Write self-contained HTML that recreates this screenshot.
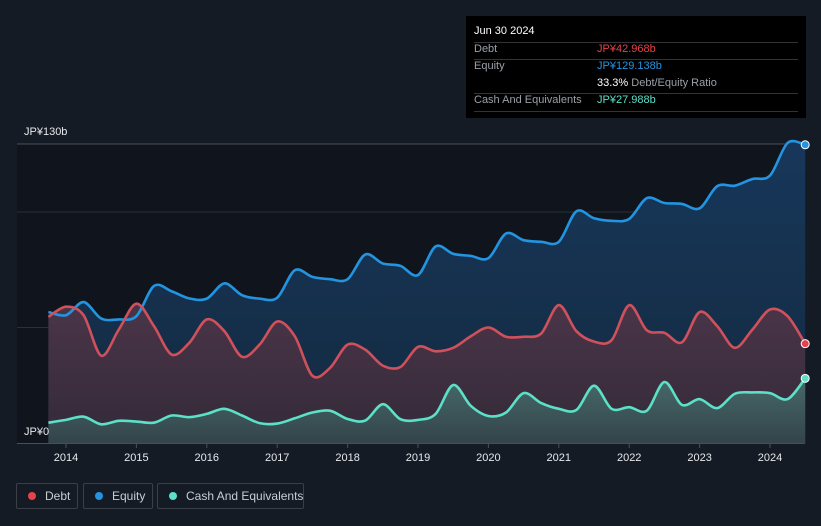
<!DOCTYPE html>
<html><head><meta charset="utf-8"><style>
body{margin:0;background:#151b25;font-family:"Liberation Sans",sans-serif;}
#wrap{position:relative;width:821px;height:526px;overflow:hidden;background:#151b25;}
svg{position:absolute;left:0;top:0;}
.tt{position:absolute;left:466px;top:16px;width:340px;height:102px;background:#000;font-size:11px;}
.tt div{position:absolute;white-space:nowrap;}
.leg{position:absolute;top:483px;height:26px;border:1px solid #3a3f48;border-radius:2px;color:#c9cdd3;font-size:12px;line-height:24px;box-sizing:border-box;white-space:nowrap;}
.leg span{display:inline-block;width:8px;height:8px;border-radius:50%;margin:0 9px 0 11px;}
</style></head><body>
<div id="wrap">
<svg id="chart" width="821" height="526"></svg>
<div class="tt">
 <div style="left:8px;top:9px;color:#fff;font-size:11px">Jun 30 2024</div>
 <div style="left:8px;top:26px;width:324px;border-top:1px solid #333"></div>
 <div style="left:8px;top:27px;color:#9aa0a8">Debt</div>
 <div style="left:131px;top:27px;color:#e5424b">JP¥42.968b</div>
 <div style="left:8px;top:43px;width:324px;border-top:1px solid #333"></div>
 <div style="left:8px;top:44px;color:#9aa0a8">Equity</div>
 <div style="left:131px;top:44px;color:#2394e0">JP¥129.138b</div>
 <div style="left:131px;top:61px;color:#9aa0a8"><b style="color:#fff;font-weight:normal">33.3%</b> Debt/Equity Ratio</div>
 <div style="left:8px;top:77px;width:324px;border-top:1px solid #333"></div>
 <div style="left:8px;top:78px;color:#9aa0a8">Cash And Equivalents</div>
 <div style="left:131px;top:78px;color:#5ce0c8">JP¥27.988b</div>
 <div style="left:8px;top:95px;width:324px;border-top:1px solid #333"></div>
</div>
<div class="leg" style="left:16px;width:62px"><span style="background:#e5424b"></span>Debt</div>
<div class="leg" style="left:83px;width:70px"><span style="background:#2394e0"></span>Equity</div>
<div class="leg" style="left:157px;width:147px"><span style="background:#5ce0c8"></span>Cash And Equivalents</div>
</div>
<script>
const startYear=2013.75;
const equity=[56.7,55.3,61.0,53.9,53.5,54.9,68.0,65.7,62.6,62.5,69.1,64.0,62.5,62.9,74.8,71.9,70.9,70.9,81.6,77.7,76.7,72.7,85.1,81.9,81.0,80.0,90.7,87.8,87.1,87.1,100.3,97.3,96.2,97.0,106.0,103.9,103.5,101.6,111.2,111.4,114.3,115.8,129.9,129.1];
const debt=[54.6,59.0,55.3,37.8,49.1,60.3,50.6,38.3,43.3,53.5,48.4,37.3,42.6,52.6,46.2,29.1,32.5,42.6,40.4,33.5,32.9,41.6,39.7,41.2,46.2,50.0,46.0,46.0,47.4,59.7,48.4,43.9,44.5,59.7,48.8,47.7,43.6,56.7,50.6,41.2,49.1,57.8,54.9,43.0];
const cash=[8.8,10.0,11.4,8.1,9.6,9.3,8.8,11.9,11.2,12.6,14.8,11.9,8.6,8.4,10.7,13.2,14.0,10.4,9.7,16.8,10.3,10.0,12.6,25.1,16.1,11.7,13.2,21.6,17.3,14.8,14.3,24.8,14.8,15.5,14.0,26.4,16.5,19.0,15.1,21.3,21.9,21.6,19.0,28.0];
const xTicks=[2014,2015,2016,2017,2018,2019,2020,2021,2022,2023,2024];
const yTicks=[0,50,100,130];
const NS='http://www.w3.org/2000/svg';
const svg=document.getElementById('chart');
const X0=17,X1=805,Y0=443;
function xs(t){return 66+(t-2014)*70.4;}
function ys(v){return Y0-v*2.31;}
function mk(tag,attrs,parent){const e=document.createElementNS(NS,tag);for(const k in attrs)e.setAttribute(k,attrs[k]);(parent||svg).appendChild(e);return e;}
const defs=mk('defs',{});
function grad(id,c1,c2,o1,o2){const g=mk('linearGradient',{id:id,x1:0,y1:0,x2:0,y2:1},defs);mk('stop',{offset:'0','stop-color':c1,'stop-opacity':o1},g);mk('stop',{offset:'1','stop-color':c2,'stop-opacity':o2},g);}
grad('ge','#17375a','#142a40',1,1);grad('gd','#4a3548','#332a38',1,1);grad('gc','#47696a','#33444a',1,1);
const bg=mk('rect',{x:X0,y:144,width:X1-X0,height:Y0-144,fill:'#10141c'});


const gridVals=[50,100];
gridVals.forEach(v=>{const l=mk('line',{x1:X0,x2:X1,y1:ys(v),y2:ys(v),stroke:'#2a2f38','stroke-width':1});

});
const tl=mk('line',{x1:X0,x2:X1,y1:144,y2:144,stroke:'#4a4f57','stroke-width':1});


function pts(arr){return arr.map((v,i)=>[xs(startYear+i*0.25),ys(v)]);}
function path(p){let d='M'+p[0][0]+','+p[0][1];for(let i=0;i<p.length-1;i++){const p0=p[i-1]||p[i],p1=p[i],p2=p[i+1],p3=p[i+2]||p2;const t=0.16;const c1=[p1[0]+(p2[0]-p0[0])*t,p1[1]+(p2[1]-p0[1])*t];const c2=[p2[0]-(p3[0]-p1[0])*t,p2[1]-(p3[1]-p1[1])*t];d+=' C'+c1[0]+','+c1[1]+' '+c2[0]+','+c2[1]+' '+p2[0]+','+p2[1];}return d;}
function series(arr,name,color,fill){const p=pts(arr);const d=path(p);
const a=mk('path',{d:d+' L'+p[p.length-1][0]+','+Y0+' L'+p[0][0]+','+Y0+' Z',fill:'url(#'+fill+')'});


return {p,d,color,name};}
const se=series(equity,'equity','#2394e0','ge');
const sd=series(debt,'debt','#d0505c','gd');
const sc=series(cash,'cash','#5ce0c8','gc');
[se,sd,sc].forEach(s=>{const l=mk('path',{d:s.d,fill:'none',stroke:s.color,'stroke-width':2.6});


const e=s.p[s.p.length-1];const c=mk('circle',{cx:e[0],cy:e[1],r:4,fill:s.name==='debt'?'#e5424b':s.color,stroke:'#fff','stroke-width':1});

});
mk('line',{x1:X0,x2:X1,y1:Y0+0.5,y2:Y0+0.5,stroke:'#4a4f57'});
xTicks.forEach(t=>{mk('line',{x1:xs(t),x2:xs(t),y1:Y0,y2:Y0+5,stroke:'#4a4f57'});
const tx=mk('text',{x:xs(t),y:461,fill:'#e6e8eb','font-size':11,'text-anchor':'middle','font-family':'Liberation Sans, sans-serif'});tx.textContent=t;

});
const l1=mk('text',{x:24,y:135,fill:'#e6e8eb','font-size':11,'font-family':'Liberation Sans, sans-serif'});l1.textContent='JP¥130b';


const l0=mk('text',{x:24,y:435,fill:'#e6e8eb','font-size':11,'font-family':'Liberation Sans, sans-serif'});l0.textContent='JP¥0';


</script>
</body></html>
